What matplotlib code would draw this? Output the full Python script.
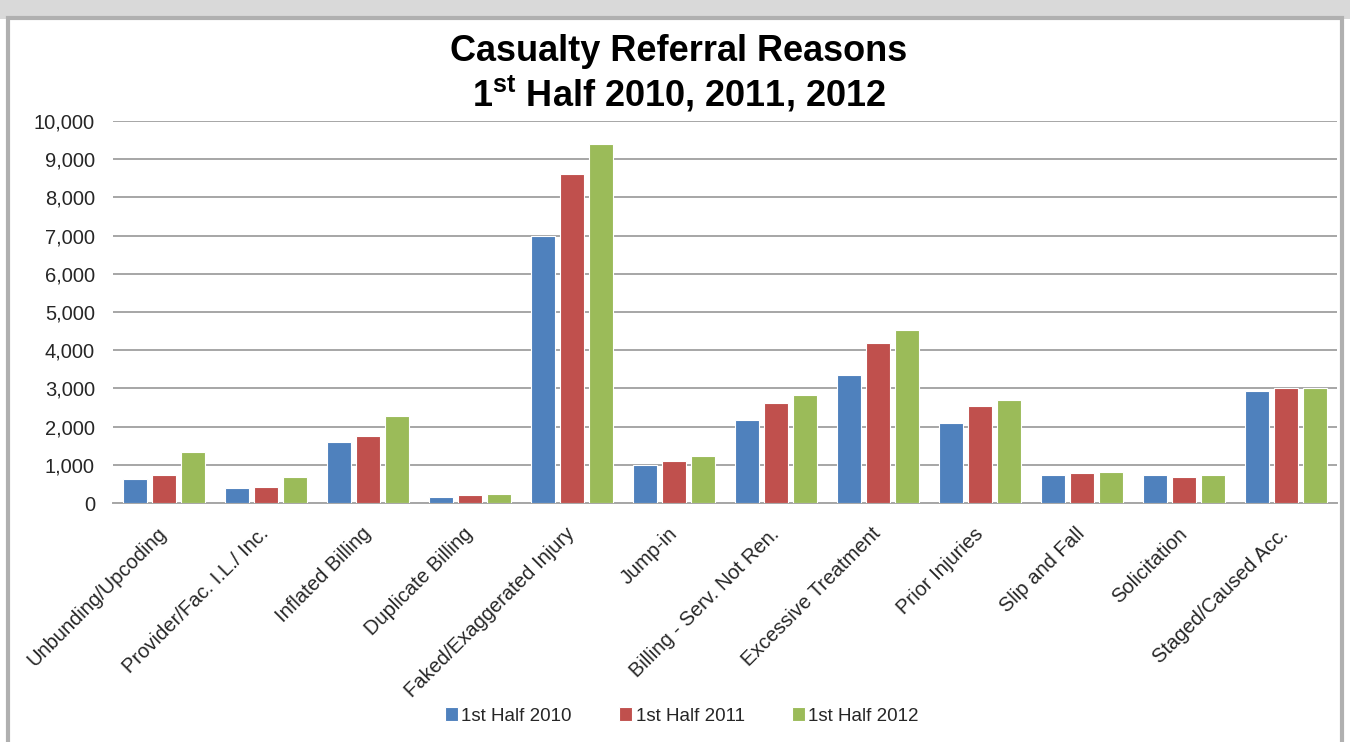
import numpy as np
import matplotlib.pyplot as plt
from matplotlib.patches import Rectangle
from matplotlib.ticker import FuncFormatter

plt.rcParams['font.family'] = ['Liberation Sans', 'DejaVu Sans']
plt.rcParams['mathtext.fontset'] = 'custom'
plt.rcParams['mathtext.rm'] = 'Liberation Sans'
plt.rcParams['mathtext.bf'] = 'Liberation Sans:bold'

categories = ["Unbunding/Upcoding", "Provider/Fac. I.L./ Inc.", "Inflated Billing",
              "Duplicate Billing", "Faked/Exaggerated Injury", "Jump-in",
              "Billing - Serv. Not Ren.", "Excessive Treatment", "Prior Injuries",
              "Slip and Fall", "Solicitation", "Staged/Caused Acc."]
series_names = ["1st Half 2010", "1st Half 2011", "1st Half 2012"]
h1_2010 = [620, 395, 1600, 165, 7000, 995, 2180, 3350, 2085, 725, 725, 2930]
h1_2011 = [725, 430, 1760, 200, 8620, 1105, 2610, 4200, 2540, 780, 690, 3000]
h1_2012 = [1335, 680, 2280, 235, 9390, 1240, 2825, 4520, 2705, 820, 725, 3015]
colors = ["#4F81BD", "#C0504D", "#9BBB59"]
text_color = "#262626"

fig = plt.figure(figsize=(13.5, 7.42), dpi=100)
# frame with shadow like the original chart box
fig.patches.append(Rectangle((0, 0.975), 1, 0.025, transform=fig.transFigure,
                             facecolor="#d9d9d9", edgecolor="none", zorder=-10))
fig.patches.append(Rectangle((0.006, -0.01), 0.988, 0.986, transform=fig.transFigure,
                             facecolor="white", edgecolor="#b0b0b0", lw=3, zorder=-9))

ax = fig.add_axes([0.0837, 0.3221, 0.9067, 0.5148])
ax.set_zorder(1)
ax.patch.set_alpha(0)
x = np.arange(len(categories))
w = 0.235
offs = [-0.285, 0, 0.285]
for vals, name, c, o in zip([h1_2010, h1_2011, h1_2012], series_names, colors, offs):
    ax.bar(x + o, vals, width=w, color=c, edgecolor="white", linewidth=0.8, label=name, zorder=3)

ax.set_xlim(-0.5, len(categories) - 0.5)
ax.set_ylim(0, 10000)
ax.set_yticks(np.arange(0, 10001, 1000))
ax.yaxis.set_major_formatter(FuncFormatter(lambda v, p: f"{int(v):,}"))
ax.grid(axis="y", color="#a6a6a6", lw=1.4, zorder=0)
for s in ["top", "right", "left"]:
    ax.spines[s].set_visible(False)
ax.spines["bottom"].set_color("#a6a6a6")
ax.spines["bottom"].set_linewidth(1.4)
ax.tick_params(axis="y", length=0, labelsize=14.5, pad=13, labelcolor=text_color)
ax.tick_params(axis="x", length=0, labelsize=14.5, pad=20, labelcolor=text_color)
ax.set_xticks(x)
ax.set_xticklabels(categories, rotation=45, ha="right", va="center", rotation_mode="anchor")

fig.text(0.503, 0.93, "Casualty Referral Reasons", ha="center", va="center",
         fontsize=26, fontweight="bold")
fig.text(0.503, 0.873, r"1$^{\mathbf{st}}$ Half 2010, 2011, 2012", ha="center", va="center",
         fontsize=26, fontweight="bold")

fig.legend(loc="center", bbox_to_anchor=(0.505, 0.035), ncol=3, frameon=False,
           fontsize=13.5, handlelength=0.7, handleheight=0.7, handletextpad=0.2,
           columnspacing=2.5, labelcolor=text_color)

fig.savefig("out.png", dpi=100)
